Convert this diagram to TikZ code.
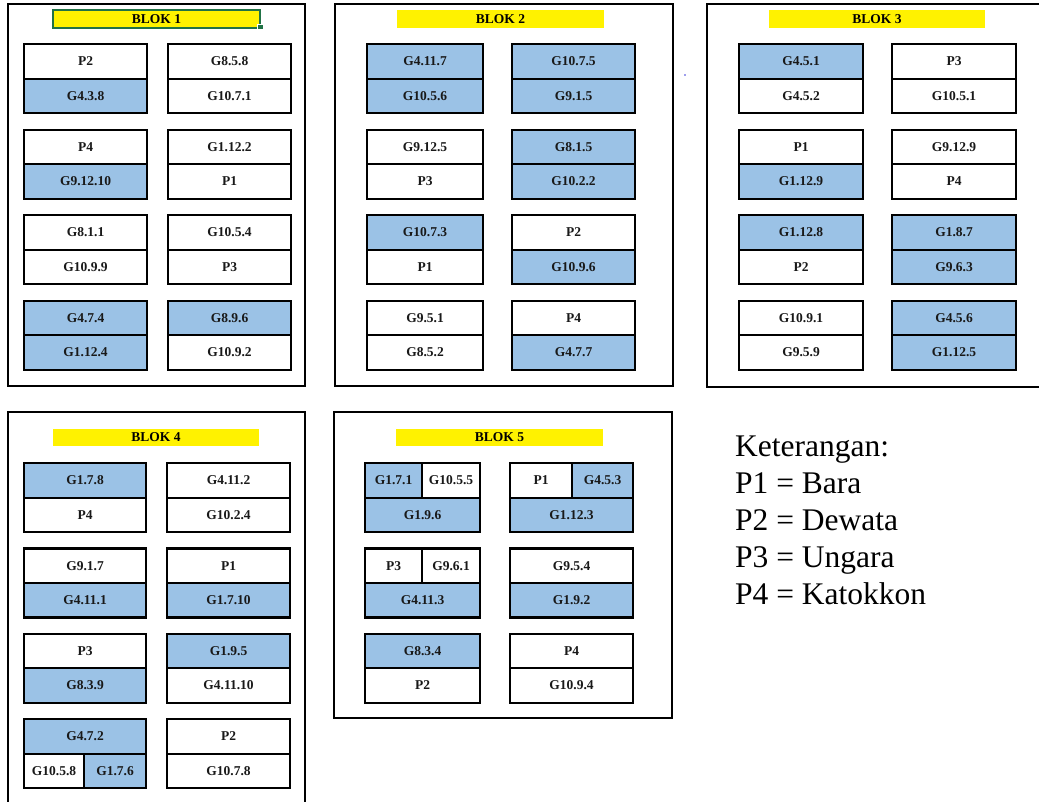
\documentclass[tikz,border=0pt]{standalone}
\usepackage{fontspec}
\setmainfont{Liberation Serif}
\definecolor{cellblue}{RGB}{155,194,230}
\definecolor{xlgreen}{RGB}{33,115,70}
\definecolor{dotblue}{RGB}{60,60,220}
\newcommand\pairbox[8]{%
  \node[cell,#5,minimum width=#4] (#1t) at (#2,#3) {#6};
  \node[cell,#7,minimum width=#4] (#1b) at (#2,#3+34.5) {#8};
}
\begin{document}
\begin{tikzpicture}[x=1pt,y=-1pt,
  cell/.style={draw=black, line width=2.2pt, anchor=north west, inner sep=0pt,
    minimum height=34.5, font=\bfseries\fontsize{13.5}{15}\selectfont, text=black!90},
  bc/.style={fill=cellblue},
  wc/.style={fill=white},
  frame/.style={draw=black, line width=2pt},
  titlebar/.style={fill=yellow, inner sep=0pt, minimum height=18, font=\bfseries\fontsize{13.5}{15}\selectfont},
  legend/.style={anchor=base west, inner sep=0pt, font=\fontsize{31.5}{36}\selectfont}
]
\fill[white] (0,0) rectangle (1039,801);
\useasboundingbox (0,0) rectangle (1039,801);

% frames
\draw[frame] (8,4) rectangle (305,386);
\draw[frame] (335,4) rectangle (673,386);
\draw[frame] (707,4) rectangle (1050,387);
\draw[frame] (8,412) rectangle (305,815);
\draw[frame] (334,412) rectangle (672,718);

% titles
\node[titlebar, minimum width=207, draw=xlgreen, line width=1.5pt] (t1) at (156.5,19) {BLOK 1};
\fill[xlgreen, draw=white, line width=0.6pt] (257.5,24) rectangle (263,29.5);
\node[titlebar, minimum width=207] (t2) at (500.5,19) {BLOK 2};
\node[titlebar, minimum width=216] (t3) at (877,19) {BLOK 3};
\node[titlebar, minimum width=206, minimum height=17] (t4) at (156,437.5) {BLOK 4};
\node[titlebar, minimum width=207, minimum height=17] (t5) at (499.5,437.5) {BLOK 5};

% stray dot
\fill[dotblue] (685,75) circle (0.9);

% BLOK 1
\pairbox{a1}{23}{43}{123}{wc}{P2}{bc}{G4.3.8}
\pairbox{a2}{167}{43}{123}{wc}{G8.5.8}{wc}{G10.7.1}
\pairbox{a3}{23}{128.5}{123}{wc}{P4}{bc}{G9.12.10}
\pairbox{a4}{167}{128.5}{123}{wc}{G1.12.2}{wc}{P1}
\pairbox{a5}{23}{214}{123}{wc}{G8.1.1}{wc}{G10.9.9}
\pairbox{a6}{167}{214}{123}{wc}{G10.5.4}{wc}{P3}
\pairbox{a7}{23}{299.5}{123}{bc}{G4.7.4}{bc}{G1.12.4}
\pairbox{a8}{167}{299.5}{123}{bc}{G8.9.6}{wc}{G10.9.2}

% BLOK 2
\pairbox{b1}{366}{43}{116}{bc}{G4.11.7}{bc}{G10.5.6}
\pairbox{b2}{511}{43}{123}{bc}{G10.7.5}{bc}{G9.1.5}
\pairbox{b3}{366}{128.5}{116}{wc}{G9.12.5}{wc}{P3}
\pairbox{b4}{511}{128.5}{123}{bc}{G8.1.5}{bc}{G10.2.2}
\pairbox{b5}{366}{214}{116}{bc}{G10.7.3}{wc}{P1}
\pairbox{b6}{511}{214}{123}{wc}{P2}{bc}{G10.9.6}
\pairbox{b7}{366}{299.5}{116}{wc}{G9.5.1}{wc}{G8.5.2}
\pairbox{b8}{511}{299.5}{123}{wc}{P4}{bc}{G4.7.7}

% BLOK 3
\pairbox{c1}{738}{43}{124}{bc}{G4.5.1}{wc}{G4.5.2}
\pairbox{c2}{891}{43}{124}{wc}{P3}{wc}{G10.5.1}
\pairbox{c3}{738}{128.5}{124}{wc}{P1}{bc}{G1.12.9}
\pairbox{c4}{891}{128.5}{124}{wc}{G9.12.9}{wc}{P4}
\pairbox{c5}{738}{214}{124}{bc}{G1.12.8}{wc}{P2}
\pairbox{c6}{891}{214}{124}{bc}{G1.8.7}{bc}{G9.6.3}
\pairbox{c7}{738}{299.5}{124}{wc}{G10.9.1}{wc}{G9.5.9}
\pairbox{c8}{891}{299.5}{124}{bc}{G4.5.6}{bc}{G1.12.5}

% BLOK 4
\pairbox{d1}{23}{462}{122}{bc}{G1.7.8}{wc}{P4}
\pairbox{d2}{166}{462}{123}{wc}{G4.11.2}{wc}{G10.2.4}
\pairbox{d3}{23}{547.3}{122}{wc}{G9.1.7}{bc}{G4.11.1}
\pairbox{d4}{166}{547.3}{123}{wc}{P1}{bc}{G1.7.10}
\pairbox{d5}{23}{632.6}{122}{wc}{P3}{bc}{G8.3.9}
\pairbox{d6}{166}{632.6}{123}{bc}{G1.9.5}{wc}{G4.11.10}
\node[cell,bc,minimum width=122] (d7t) at (23,718) {G4.7.2};
\node[cell,wc,minimum width=60] (d7bl) at (23,752.5) {G10.5.8};
\node[cell,bc,minimum width=62] (d7br) at (83,752.5) {G1.7.6};
\pairbox{d8}{166}{718}{123}{wc}{P2}{wc}{G10.7.8}

% BLOK 5
\node[cell,bc,minimum width=57] (e1tl) at (364,462) {G1.7.1};
\node[cell,wc,minimum width=58] (e1tr) at (421,462) {G10.5.5};
\node[cell,bc,minimum width=115] (e1b) at (364,496.5) {G1.9.6};
\node[cell,wc,minimum width=62] (e2tl) at (509,462) {P1};
\node[cell,bc,minimum width=61] (e2tr) at (571,462) {G4.5.3};
\node[cell,bc,minimum width=123] (e2b) at (509,496.5) {G1.12.3};
\node[cell,wc,minimum width=57] (e3tl) at (364,547.3) {P3};
\node[cell,wc,minimum width=58] (e3tr) at (421,547.3) {G9.6.1};
\node[cell,bc,minimum width=115] (e3b) at (364,581.8) {G4.11.3};
\pairbox{e4}{509}{547.3}{123}{wc}{G9.5.4}{bc}{G1.9.2}
\pairbox{e5}{364}{632.6}{115}{bc}{G8.3.4}{wc}{P2}
\pairbox{e6}{509}{632.6}{123}{wc}{P4}{wc}{G10.9.4}

% legend
\node[legend] (k0) at (735,456) {Keterangan:};
\node[legend] (k1) at (735,493) {P1 = Bara};
\node[legend] (k2) at (735,530) {P2 = Dewata};
\node[legend] (k3) at (735,567) {P3 = Ungara};
\node[legend] (k4) at (735,604) {P4 = Katokkon};
\end{tikzpicture}
\end{document}
